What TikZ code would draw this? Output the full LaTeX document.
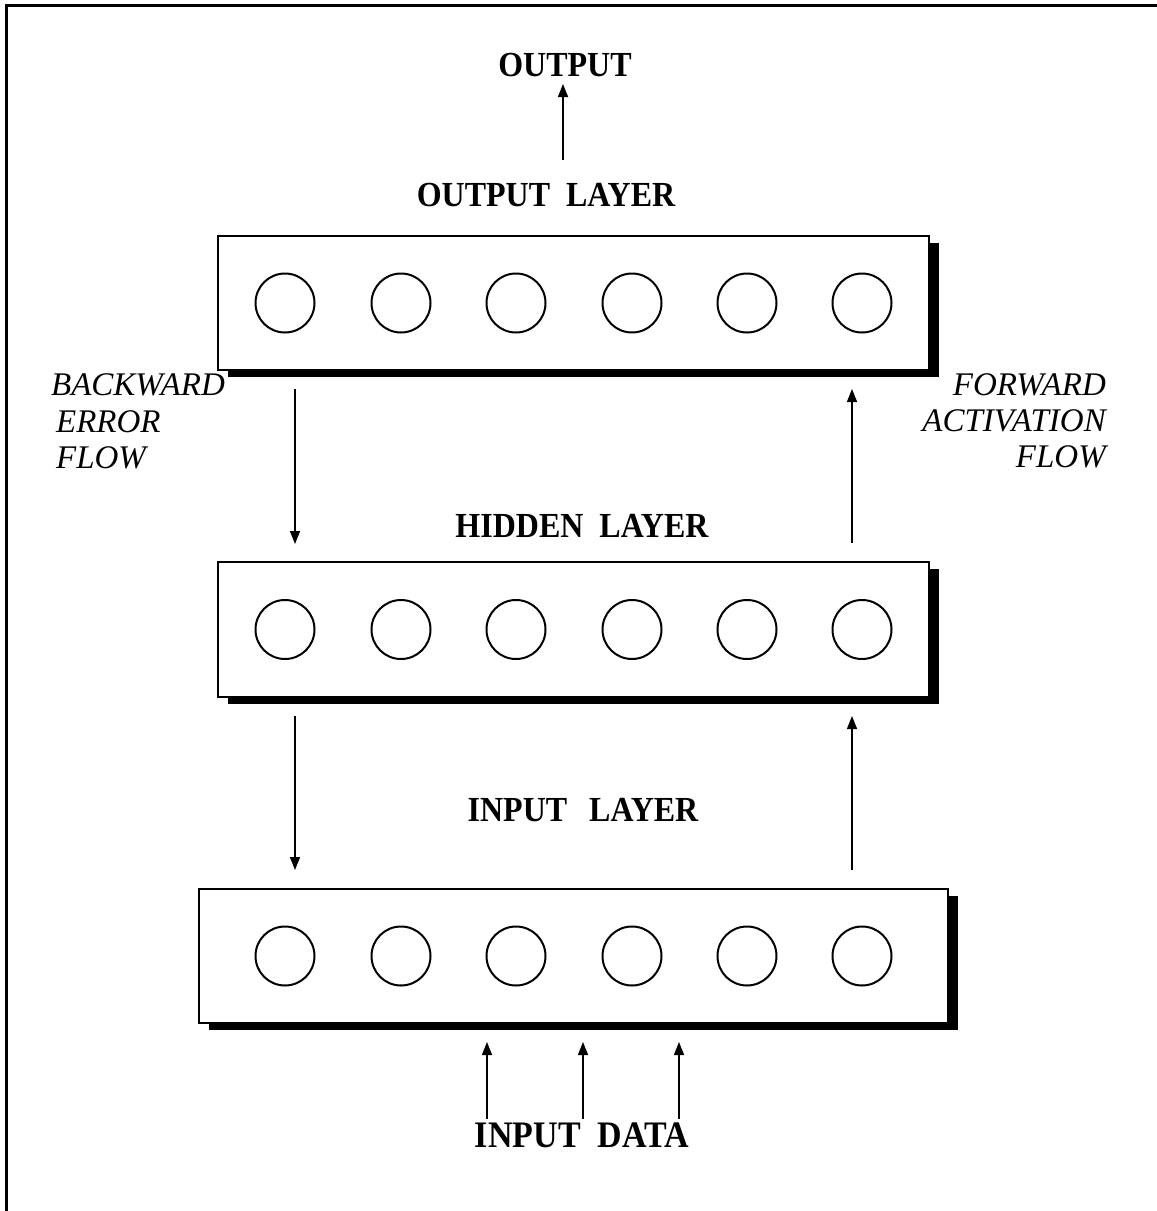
\documentclass[tikz,border=0pt]{standalone}
\usepackage{fontspec}
\setmainfont{Liberation Serif}
\usetikzlibrary{arrows.meta,shadows,calc}
\newcommand\talltext[1]{\scalebox{1}[1.1]{#1}}
\tikzset{
  layerbox/.style={draw, line width=2pt, fill=white, inner sep=0pt,
    drop shadow={shadow xshift=9.5pt, shadow yshift=-7pt, fill=black, opacity=1}},
  neuron/.style={circle, draw, line width=2pt, minimum size=59pt, inner sep=0pt},
  flow/.style={line width=1.5pt, -{Triangle[length=13pt,width=10pt]}},
  lbl/.style={font=\fontsize{32}{38}\selectfont\bfseries, inner sep=0pt, anchor=base},
  side/.style={font=\fontsize{33}{39}\selectfont\itshape, inner sep=0pt},
  frame/.style={line width=3pt},
}
\begin{document}
\begin{tikzpicture}[x=1pt,y=-1pt]
\useasboundingbox (0,0) rectangle (1157,1211);
% frame (top and left edges visible)
\coordinate (fbl) at (6,1211);
\coordinate (ftl) at (6,5.5);
\coordinate (ftr) at (1157,5.5);
\draw[frame] (fbl) -- (ftl) -- (ftr);

% layer boxes
\node[layerbox, minimum width=711pt, minimum height=134pt] (outbox) at (573.5,303) {};
\node[layerbox, minimum width=711pt, minimum height=135pt] (hidbox) at (573.5,629.5) {};
\node[layerbox, minimum width=749pt, minimum height=134pt] (inbox) at (573.5,956) {};

% neurons
\foreach \i/\x in {1/285,2/401,3/516,4/632,5/747,6/862}{
  \node[neuron] (o\i) at (\x,303) {};
  \node[neuron] (h\i) at (\x,629.5) {};
  \node[neuron] (n\i) at (\x,956) {};
}

% labels
\node[lbl] (outtxt) at (565,76) {\talltext{OUTPUT}};
\node[lbl] (outlay) at (546,206) {\talltext{OUTPUT\ \ LAYER}};
\node[lbl] (hidlay) at (582,537) {\talltext{HIDDEN\ \ LAYER}};
\node[lbl] (inlay) at (583,821) {\talltext{INPUT\hspace{22pt}LAYER}};
\node[lbl, font=\fontsize{34}{40}\selectfont\bfseries] (indata) at (582,1147) {\talltext{INPUT\ \ DATA}};

% side texts
\node[side, anchor=base east] (bw1) at (225,395) {BACKWARD};
\node[side, anchor=base west] (bw2) at ($(bw1.base west)+(5,37)$) {ERROR};
\node[side, anchor=base west] (bw3) at ($(bw1.base west)+(5,73)$) {FLOW};
\node[side, anchor=base east] (fw1) at (1106,395) {FORWARD};
\node[side, anchor=base east] (fw2) at (1106,431) {ACTIVATION};
\node[side, anchor=base east] (fw3) at (1106,467) {FLOW};

% arrow end points
\coordinate (oa1) at (563,160); \coordinate (oa2) at (563,84);
\coordinate (b1a) at (295,389); \coordinate (b1b) at (295,544);
\coordinate (b2a) at (295,716); \coordinate (b2b) at (295,870);
\coordinate (f1a) at (852,543); \coordinate (f1b) at (852,389);
\coordinate (f2a) at (852,870); \coordinate (f2b) at (852,716);
\foreach \k/\x in {1/487,2/583,3/679}{
  \coordinate (d\k a) at (\x,1119);
  \coordinate (d\k b) at (\x,1042);
}

% arrows
\draw[flow] (oa1) -- (oa2);
\draw[flow] (b1a) -- (b1b);
\draw[flow] (b2a) -- (b2b);
\draw[flow] (f1a) -- (f1b);
\draw[flow] (f2a) -- (f2b);
\foreach \k in {1,2,3}{
  \draw[flow] (d\k a) -- (d\k b);
}
\end{tikzpicture}
\end{document}
